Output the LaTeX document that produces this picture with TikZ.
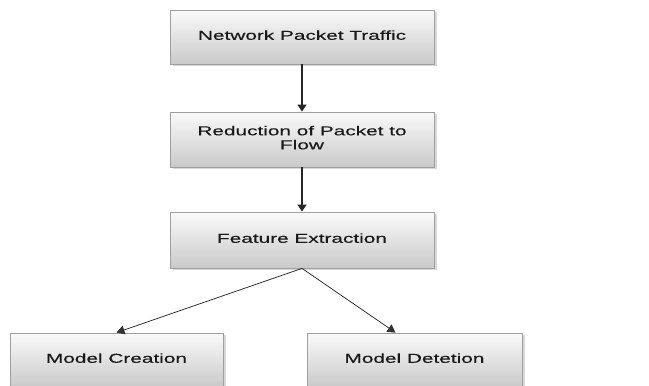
\documentclass[tikz,border=0pt]{standalone}
\usepackage{fontspec}
\setmainfont{Liberation Sans}
\newfontfamily\boxfont{Liberation Sans}[UprightFeatures={FakeBold=0.2}]
\usetikzlibrary{arrows.meta,shadows,calc}
\newcommand{\wtxt}[1]{\scalebox{1.6}[1]{\begin{tabular}{@{}c@{}}#1\end{tabular}}}
\begin{document}
\begin{tikzpicture}[x=1pt,y=-1pt,
  boxstyle/.style={draw=gray!75, line width=0.8pt, top color=gray!4, bottom color=gray!42,
    minimum height=54pt, inner sep=0pt, text=black!90,
    font=\boxfont\fontsize{13}{14}\selectfont,
    drop shadow={shadow xshift=2.5pt, shadow yshift=-2pt, fill=gray!60, opacity=0.5}},
  vline/.style={line width=1.4pt, draw=black!85, -{Triangle[length=7pt,width=9pt]}},
  dline/.style={line width=0.8pt, draw=black!80, -{Triangle[length=8pt,width=9pt]}}]
\useasboundingbox (0,0) rectangle (649,386);
\fill[white] (0,0) rectangle (649,386);
\begin{scope}
\clip (0,0) rectangle (649,386);
\node[boxstyle, minimum width=264pt] (a) at (302,37) {\wtxt{Network Packet Traffic}};
\node[boxstyle, minimum width=264pt, minimum height=55pt] (b) at (302,139.5) {\wtxt{Reduction of Packet to\\Flow}};
\node[boxstyle, minimum width=264pt, minimum height=56pt] (c) at (302,240) {\wtxt{Feature Extraction}};
\node[boxstyle, minimum width=213pt] (d) at (116.5,360) {\wtxt{Model Creation}};
\node[boxstyle, minimum width=215pt] (e) at (414.5,360) {\wtxt{Model Detetion}};
\end{scope}
\coordinate (et) at ($(e.north)+(-19,0)$);
\draw[vline] (a.south) -- (b.north);
\draw[vline] (b.south) -- (c.north);
\draw[dline] (c.south) -- (d.north);
\draw[dline] (c.south) -- (et);
\end{tikzpicture}
\end{document}
